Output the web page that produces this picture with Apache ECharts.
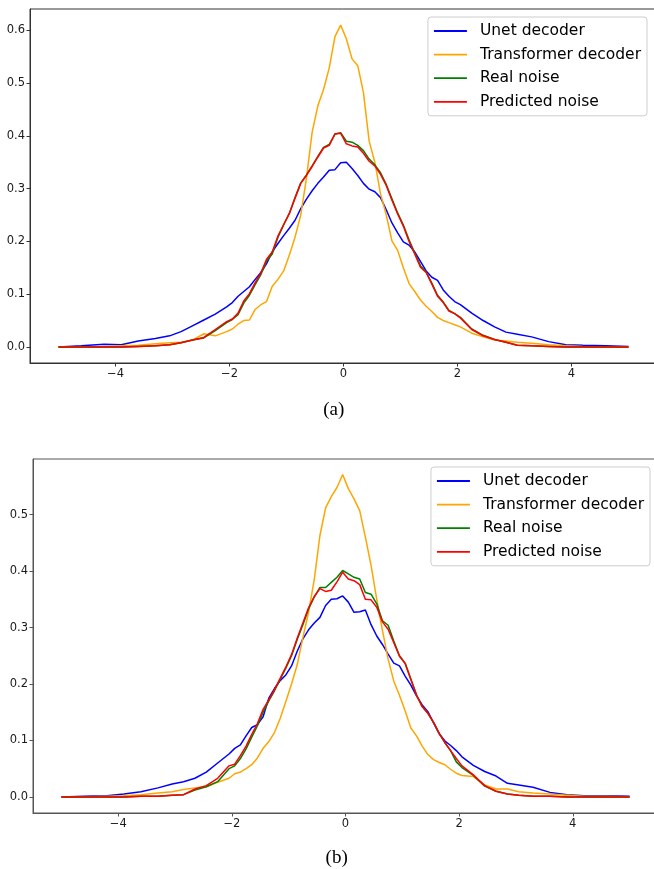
<!DOCTYPE html>
<html>
<head>
<meta charset="utf-8">
<script src="https://cdn.jsdelivr.net/npm/echarts@6.0.0/dist/echarts.min.js"></script>
<style>
html, body { margin: 0; padding: 0; background: #fff; }
#main { width: 654px; height: 869px; }
</style>
</head>
<body>
<div id="main"></div>
<script>
var names = ['Unet decoder', 'Transformer decoder', 'Real noise', 'Predicted noise'];
var colors = ['#0000ff', '#ffa500', '#008000', '#ff0000'];

// bin positions (same for both panels)
var xs = [-5, -4.6, -4.2, -3.9, -3.6, -3.3, -3.05, -2.85, -2.65, -2.45, -2.25,
    -2.05, -1.95, -1.85, -1.75, -1.65, -1.55, -1.45, -1.35, -1.25, -1.15, -1.05,
    -0.95, -0.85, -0.75, -0.65, -0.55, -0.45, -0.35, -0.25, -0.15, -0.05,
    0.05, 0.15, 0.25, 0.35, 0.45, 0.55, 0.65, 0.75, 0.85, 0.95, 1.05,
    1.15, 1.25, 1.35, 1.45, 1.55, 1.65, 1.75, 1.85, 1.95, 2.05,
    2.25, 2.45, 2.65, 2.85, 3.05, 3.3, 3.6, 3.9, 4.2, 4.6, 5];

// panel (a)
var unetA = [0.000, 0.002, 0.005, 0.004, 0.011, 0.016, 0.021, 0.029, 0.040, 0.051, 0.062,
    0.076, 0.084, 0.096, 0.105, 0.114, 0.128, 0.141, 0.158, 0.180, 0.196, 0.211,
    0.225, 0.240, 0.262, 0.280, 0.296, 0.310, 0.322, 0.335, 0.336, 0.349,
    0.350, 0.338, 0.325, 0.310, 0.299, 0.294, 0.283, 0.260, 0.235, 0.216, 0.199,
    0.193, 0.180, 0.162, 0.144, 0.132, 0.126, 0.108, 0.096, 0.086, 0.080,
    0.064, 0.050, 0.038, 0.028, 0.024, 0.019, 0.010, 0.004, 0.003, 0.002, 0.001];
var transA = [0.000, 0.000, 0.001, 0.002, 0.003, 0.006, 0.008, 0.009, 0.013, 0.025, 0.021,
    0.029, 0.034, 0.043, 0.050, 0.051, 0.071, 0.080, 0.086, 0.115, 0.128, 0.144,
    0.174, 0.208, 0.250, 0.320, 0.407, 0.457, 0.488, 0.529, 0.588, 0.610,
    0.584, 0.546, 0.533, 0.482, 0.390, 0.350, 0.290, 0.250, 0.201, 0.183, 0.150,
    0.120, 0.105, 0.089, 0.077, 0.067, 0.056, 0.050, 0.046, 0.042, 0.038,
    0.026, 0.019, 0.013, 0.011, 0.009, 0.007, 0.004, 0.002, 0.001, 0.000, 0.000];
var realA = [0.000, 0.000, 0.000, 0.000, 0.001, 0.002, 0.004, 0.008, 0.013, 0.017, 0.031,
    0.046, 0.052, 0.061, 0.083, 0.098, 0.118, 0.137, 0.163, 0.176, 0.208, 0.231,
    0.253, 0.283, 0.311, 0.326, 0.343, 0.361, 0.378, 0.384, 0.403, 0.406,
    0.390, 0.388, 0.382, 0.372, 0.356, 0.345, 0.330, 0.308, 0.281, 0.254, 0.231,
    0.203, 0.178, 0.154, 0.142, 0.121, 0.098, 0.085, 0.069, 0.063, 0.056,
    0.034, 0.022, 0.014, 0.009, 0.003, 0.002, 0.001, 0.000, 0.000, 0.000, 0.000];
var predA = [0.000, 0.000, 0.000, 0.000, 0.001, 0.002, 0.004, 0.008, 0.013, 0.018, 0.033,
    0.048, 0.053, 0.064, 0.087, 0.101, 0.122, 0.140, 0.166, 0.180, 0.210, 0.232,
    0.253, 0.282, 0.310, 0.325, 0.342, 0.360, 0.377, 0.382, 0.404, 0.405,
    0.385, 0.381, 0.379, 0.367, 0.352, 0.343, 0.327, 0.306, 0.278, 0.252, 0.229,
    0.200, 0.176, 0.151, 0.141, 0.119, 0.096, 0.084, 0.068, 0.063, 0.055,
    0.033, 0.021, 0.014, 0.009, 0.003, 0.002, 0.001, 0.000, 0.000, 0.000, 0.000];

// panel (b)
var unetB = [0.000, 0.001, 0.002, 0.005, 0.009, 0.016, 0.023, 0.027, 0.033, 0.044, 0.060,
    0.076, 0.086, 0.092, 0.108, 0.123, 0.128, 0.142, 0.175, 0.192, 0.206, 0.216,
    0.232, 0.258, 0.280, 0.296, 0.308, 0.318, 0.339, 0.350, 0.351, 0.356,
    0.345, 0.327, 0.328, 0.331, 0.305, 0.285, 0.270, 0.253, 0.237, 0.232, 0.214,
    0.198, 0.179, 0.163, 0.151, 0.131, 0.112, 0.099, 0.091, 0.082, 0.071,
    0.056, 0.045, 0.037, 0.024, 0.021, 0.017, 0.008, 0.004, 0.002, 0.002, 0.001];
var transB = [0.000, 0.000, 0.001, 0.002, 0.004, 0.007, 0.009, 0.013, 0.016, 0.018, 0.026,
    0.033, 0.041, 0.044, 0.050, 0.057, 0.069, 0.086, 0.098, 0.114, 0.139, 0.169,
    0.200, 0.234, 0.282, 0.327, 0.385, 0.463, 0.512, 0.532, 0.548, 0.571,
    0.546, 0.528, 0.507, 0.460, 0.410, 0.350, 0.295, 0.244, 0.205, 0.180, 0.152,
    0.122, 0.108, 0.090, 0.075, 0.066, 0.061, 0.057, 0.049, 0.042, 0.038,
    0.036, 0.021, 0.014, 0.014, 0.009, 0.007, 0.005, 0.003, 0.001, 0.001, 0.000];
var realB = [0.000, 0.000, 0.000, 0.000, 0.001, 0.001, 0.003, 0.004, 0.012, 0.018, 0.027,
    0.050, 0.055, 0.068, 0.085, 0.106, 0.126, 0.150, 0.170, 0.188, 0.208, 0.228,
    0.250, 0.279, 0.305, 0.333, 0.354, 0.371, 0.371, 0.380, 0.389, 0.401,
    0.395, 0.389, 0.386, 0.362, 0.359, 0.342, 0.312, 0.304, 0.276, 0.250, 0.237,
    0.209, 0.181, 0.160, 0.148, 0.132, 0.112, 0.096, 0.082, 0.062, 0.052,
    0.038, 0.019, 0.010, 0.005, 0.003, 0.001, 0.001, 0.000, 0.000, 0.000, 0.000];
var predB = [0.000, 0.000, 0.000, 0.000, 0.001, 0.001, 0.003, 0.004, 0.014, 0.020, 0.033,
    0.055, 0.058, 0.073, 0.090, 0.111, 0.130, 0.155, 0.172, 0.190, 0.210, 0.230,
    0.252, 0.281, 0.308, 0.335, 0.355, 0.369, 0.364, 0.366, 0.381, 0.398,
    0.386, 0.383, 0.376, 0.350, 0.349, 0.336, 0.310, 0.297, 0.273, 0.249, 0.236,
    0.208, 0.180, 0.160, 0.148, 0.132, 0.112, 0.096, 0.082, 0.068, 0.055,
    0.039, 0.020, 0.010, 0.005, 0.003, 0.001, 0.001, 0.000, 0.000, 0.000, 0.000];

var xTicks = [-4, -2, 0, 2, 4];
var yTicksA = [0, 0.1, 0.2, 0.3, 0.4, 0.5, 0.6];
var yTicksB = [0, 0.1, 0.2, 0.3, 0.4, 0.5];

var chart = echarts.init(document.getElementById('main'), null, { renderer: 'canvas' });

function pairs(ys) {
    return xs.map(function (x, i) { return [x, ys[i]]; });
}

function xAxisFor(idx, col) {
    return {
        type: 'value', gridIndex: idx, min: -5.5, max: 5.5,
        splitLine: { show: false },
        axisLine: { show: true, onZero: false, lineStyle: { color: col, width: 1 } },
        axisTick: { show: true, length: 3.5, customValues: xTicks, lineStyle: { color: col, width: 1 } },
        axisLabel: {
            customValues: xTicks, margin: 5, fontSize: 11.5, color: '#1a1a1a', fontFamily: 'DejaVu Sans',
            formatter: function (v) { return v < 0 ? '\u2212' + Math.abs(v) : String(v); }
        }
    };
}

function yAxisFor(idx, lo, hi, ticks, col) {
    return {
        type: 'value', gridIndex: idx, min: lo, max: hi,
        splitLine: { show: false },
        axisLine: { show: true, onZero: false, lineStyle: { color: col, width: 1 } },
        axisTick: { show: true, length: 3.5, customValues: ticks, lineStyle: { color: col, width: 1 } },
        axisLabel: {
            customValues: ticks, margin: 5, fontSize: 11.5, color: '#1a1a1a', fontFamily: 'DejaVu Sans',
            formatter: function (v) { return v.toFixed(1); }
        }
    };
}

function legendFor(top, right) {
    return {
        orient: 'vertical', top: top, right: right,
        data: names,
        icon: 'rect', itemWidth: 33, itemHeight: 1.8, itemGap: 5.6,
        padding: [5, 6, 5, 6],
        borderColor: 'rgba(200,200,200,0.9)', borderWidth: 1, borderRadius: 3,
        backgroundColor: 'rgba(255,255,255,0.8)',
        selectedMode: false,
        textStyle: { fontFamily: 'DejaVu Sans', fontSize: 15.5, color: '#000', lineHeight: 18, padding: [0, 0, 0, 8] }
    };
}

var series = [];
var panels = [[unetA, transA, realA, predA], [unetB, transB, realB, predB]];
panels.forEach(function (set, g) {
    set.forEach(function (ys, k) {
        series.push({
            name: names[k], type: 'line', xAxisIndex: g, yAxisIndex: g,
            data: pairs(ys), showSymbol: false, symbol: 'none', smooth: false,
            lineStyle: { color: colors[k], width: 1.5 },
            itemStyle: { color: colors[k] },
            emphasis: { disabled: true }
        });
    });
});

var option = {
    animation: false,
    backgroundColor: '#fff',
    grid: [
        { left: 30, top: 9, width: 627, height: 354, show: true, borderColor: '#333', borderWidth: 1, outerBoundsMode: 'none' },
        { left: 33, top: 459, width: 625, height: 354, show: true, borderColor: '#555', borderWidth: 1, outerBoundsMode: 'none' }
    ],
    xAxis: [xAxisFor(0, '#333'), xAxisFor(1, '#555')],
    yAxis: [yAxisFor(0, -0.0305, 0.6405, yTicksA, '#333'), yAxisFor(1, -0.0285, 0.5985, yTicksB, '#555')],
    legend: [legendFor(17, 7), legendFor(467, 4)],
    graphic: [
        { type: 'text', x: 333.7, y: 410, style: { text: '(a)', font: '19px "Liberation Serif"', fill: '#000',
            textAlign: 'center', textVerticalAlign: 'middle', align: 'center', verticalAlign: 'middle' } },
        { type: 'text', x: 336.7, y: 858, style: { text: '(b)', font: '19px "Liberation Serif"', fill: '#000',
            textAlign: 'center', textVerticalAlign: 'middle', align: 'center', verticalAlign: 'middle' } }
    ],
    series: series
};

chart.setOption(option);
</script>
</body>
</html>
